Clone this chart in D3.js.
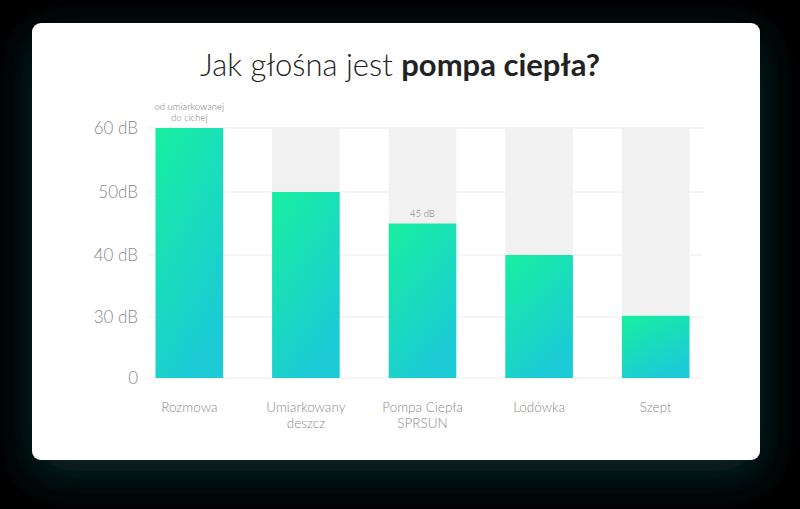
<!DOCTYPE html>
<html><head><meta charset="utf-8">
<script src="https://cdn.jsdelivr.net/npm/d3@7"></script>
<style>
html,body{margin:0;padding:0;background:#000;}
svg{display:block;}
</style></head>
<body>
<svg id="chart" width="800" height="509"></svg>
<script>
const categories = [["Rozmowa"], ["Umiarkowany", "deszcz"], ["Pompa Ciepła", "SPRSUN"], ["Lodówka"], ["Szept"]];
const values = [60, 50, 45, 40, 30.2];
const tickValues = [0, 30, 40, 50, 60];
const tickLabels = ["0", "30 dB", "40 dB", "50dB", "60 dB"];
const annotations = [["od umiarkowanej", "do cichej"], null, ["45 dB"], null, null];
const titleLight = "Jak głośna jest ";
const titleBold = "pompa ciepła?";

const svg = d3.select("#chart");
const font = "Lato, 'Open Sans', sans-serif";
const defs = svg.append("defs");
const glow = defs.append("filter").attr("id","glow").attr("x","-20%").attr("y","-20%").attr("width","140%").attr("height","150%");
glow.append("feGaussianBlur").attr("in","SourceAlpha").attr("stdDeviation",22).attr("result","b");
glow.append("feOffset").attr("in","b").attr("dy",14).attr("result","o");
glow.append("feFlood").attr("flood-color","#0f3a3c").attr("flood-opacity",0.75);
glow.append("feComposite").attr("in2","o").attr("operator","in").attr("result","s");
const m = glow.append("feMerge"); m.append("feMergeNode").attr("in","s"); m.append("feMergeNode").attr("in","SourceGraphic");

const grad = defs.append("linearGradient").attr("id","barGrad").attr("x1","0").attr("y1","0").attr("x2","0.5").attr("y2","1");
grad.append("stop").attr("offset","0%").attr("stop-color","#17efa0");
grad.append("stop").attr("offset","100%").attr("stop-color","#1ccbd6");

svg.append("rect").attr("x",32).attr("y",23).attr("width",728).attr("height",437).attr("rx",9).attr("fill","#fff").attr("filter","url(#glow)");

const title = svg.append("text").attr("x",400).attr("y",76).attr("text-anchor","middle")
  .attr("font-family",font).attr("font-size",31).attr("fill","#222");
title.append("tspan").attr("font-weight",300).text(titleLight);
title.append("tspan").attr("font-weight",700).text(titleBold);

const x = d3.scaleBand().domain(d3.range(categories.length)).range([131,714]).paddingInner(0.42).paddingOuter(0.21);
const y = d3.scaleLinear().domain(tickValues).range([378,317,255,192,128]);

// gridlines
svg.append("g").selectAll("line").data(tickValues).join("line")
  .attr("x1",148).attr("x2",703).attr("y1",d=>y(d)).attr("y2",d=>y(d))
  .attr("stroke","#ececec").attr("stroke-width",1);

// background bars
svg.append("g").selectAll("rect").data(values).join("rect")
  .attr("x",(d,i)=>x(i)).attr("width",x.bandwidth())
  .attr("y",y(60)).attr("height",d=>y(d)-y(60)).attr("fill","#f1f1f1");

// bars
svg.append("g").selectAll("rect").data(values).join("rect")
  .attr("x",(d,i)=>x(i)).attr("width",x.bandwidth())
  .attr("y",d=>y(d)).attr("height",d=>y(0)-y(d)).attr("fill","url(#barGrad)");

// y axis
const yAxis = d3.axisLeft(y).tickValues(tickValues).tickFormat((d,i)=>tickLabels[i]).tickSize(0).tickPadding(0);
const ya = svg.append("g").attr("transform","translate(138,0)").call(yAxis);
ya.select(".domain").remove();
ya.selectAll("text").attr("font-family",font).attr("font-size",17).attr("font-weight",300).attr("fill","#8a8a8a").attr("dy","0.35em");

// x axis
const xAxis = d3.axisBottom(x).tickSize(0).tickFormat(()=>"");
const xa = svg.append("g").attr("transform","translate(0,378)").call(xAxis);
xa.select(".domain").remove();
xa.selectAll(".tick").each(function(d){
  const g = d3.select(this);
  categories[d].forEach((s,k)=>g.append("text").attr("font-family",font).attr("font-size",13.5).attr("font-weight",300)
    .attr("fill","#8a8a8a").attr("text-anchor","middle").attr("x",0).attr("y",34+k*16).text(s));
});

// annotations
annotations.forEach((a,i)=>{
  if(!a) return;
  const cx = x(i)+x.bandwidth()/2;
  const top = y(values[i]);
  a.forEach((s,k)=>svg.append("text").attr("font-family",font).attr("font-size",9.5).attr("font-weight",300)
    .attr("fill","#777").attr("text-anchor","middle").attr("x",cx).attr("y",top-7-(a.length-1-k)*11).text(s));
});
</script>
</body></html>
